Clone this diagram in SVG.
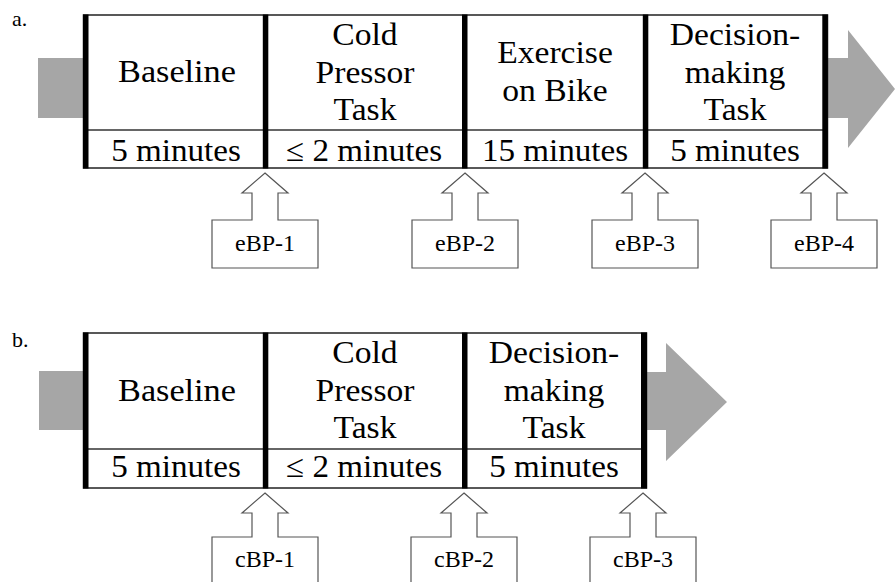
<svg xmlns="http://www.w3.org/2000/svg" width="895" height="582" viewBox="0 0 895 582">
<style>
.big{font-family:'Liberation Serif','Times New Roman',Times,serif;font-size:16px;fill:#000;text-anchor:middle}
.s{font-family:'Liberation Serif','Times New Roman',Times,serif;font-size:24px;fill:#000;text-anchor:middle}
.lab{font-family:'Liberation Serif','Times New Roman',Times,serif;font-size:22px;fill:#000}
.frame{fill:#fff;stroke:#222;stroke-width:1.5}
.div{stroke:#333;stroke-width:1.5}
.bar{fill:#000}
.gray{fill:#a6a6a6}
.call{fill:#fff;stroke:#555;stroke-width:1.2;stroke-linejoin:miter}
</style>
<rect width="895" height="582" fill="#fff"/>
<text class="lab" x="12" y="26">a.</text>
<text class="lab" x="12" y="347">b.</text>
<g id="connectors">
  <rect class="gray" x="38" y="58" width="46" height="60"/>
  <polygon class="gray" points="827,58 848,58 848,30 895,89 848,148 848,118 827,118"/>
  <rect class="gray" x="39" y="371" width="45" height="59"/>
  <polygon class="gray" points="646,372 666,372 666,343 727,402 666,461 666,430 646,430"/>
</g>
<g id="timeline-a">
  <rect class="frame" x="83.5" y="15" width="744" height="153"/>
  <line class="div" x1="84" y1="130" x2="827" y2="130"/>
  <rect class="bar" x="83" y="14.5" width="5.5" height="154"/>
  <rect class="bar" x="262.8" y="14.5" width="5.5" height="154"/>
  <rect class="bar" x="462" y="14.5" width="5.5" height="154"/>
  <rect class="bar" x="642.8" y="14.5" width="5.5" height="154"/>
  <rect class="bar" x="822.3" y="14.5" width="5.5" height="154"/>
</g>
<g id="a-baseline">
  <text class="big" transform="translate(177,82) scale(2.14,2)">Baseline</text>
  <text class="big" transform="translate(176,161) scale(2.07,2)">5 minutes</text>
</g>
<g id="a-cold">
  <text class="big" transform="translate(365,45) scale(2.1,2)">Cold</text>
  <text class="big" transform="translate(365,83) scale(2.1,2)">Pressor</text>
  <text class="big" transform="translate(365,120) scale(2.1,2)">Task</text>
  <text class="big" transform="translate(364,161) scale(2.07,2)">≤ 2 minutes</text>
</g>
<g id="a-exercise">
  <text class="big" transform="translate(555,63) scale(2.1,2)">Exercise</text>
  <text class="big" transform="translate(555,101) scale(2.1,2)">on Bike</text>
  <text class="big" transform="translate(555,161) scale(2.07,2)">15 minutes</text>
</g>
<g id="a-decision">
  <text class="big" transform="translate(735,45) scale(2.1,2)">Decision-</text>
  <text class="big" transform="translate(735,83) scale(2.1,2)">making</text>
  <text class="big" transform="translate(735,120) scale(2.1,2)">Task</text>
  <text class="big" transform="translate(735,161) scale(2.07,2)">5 minutes</text>
</g>
<g id="eBP-1">
  <polygon class="call" points="265,173 288,193 278,193 278,220 318,220 318,268 212,268 212,220 252,220 252,193 242,193"/>
  <text class="s" x="265" y="251">eBP-1</text>
</g>
<g id="eBP-2">
  <polygon class="call" points="465,173 488,193 478,193 478,220 518,220 518,268 412,268 412,220 452,220 452,193 442,193"/>
  <text class="s" x="465" y="251">eBP-2</text>
</g>
<g id="eBP-3">
  <polygon class="call" points="645,173 668,193 658,193 658,220 698,220 698,268 592,268 592,220 632,220 632,193 622,193"/>
  <text class="s" x="645" y="251">eBP-3</text>
</g>
<g id="eBP-4">
  <polygon class="call" points="824,173 847,193 837,193 837,220 877,220 877,268 771,268 771,220 811,220 811,193 801,193"/>
  <text class="s" x="824" y="251">eBP-4</text>
</g>
<g id="timeline-b">
  <rect class="frame" x="83.5" y="333" width="563" height="155"/>
  <line class="div" x1="84" y1="449" x2="646" y2="449"/>
  <rect class="bar" x="83" y="332.5" width="5.5" height="156"/>
  <rect class="bar" x="262.8" y="332.5" width="5.5" height="156"/>
  <rect class="bar" x="462" y="332.5" width="5.5" height="156"/>
  <rect class="bar" x="641" y="332.5" width="6" height="156"/>
</g>
<g id="b-baseline">
  <text class="big" transform="translate(177,401) scale(2.14,2)">Baseline</text>
  <text class="big" transform="translate(176,477) scale(2.07,2)">5 minutes</text>
</g>
<g id="b-cold">
  <text class="big" transform="translate(365,363) scale(2.1,2)">Cold</text>
  <text class="big" transform="translate(365,401) scale(2.1,2)">Pressor</text>
  <text class="big" transform="translate(365,438) scale(2.1,2)">Task</text>
  <text class="big" transform="translate(364,477) scale(2.07,2)">≤ 2 minutes</text>
</g>
<g id="b-decision">
  <text class="big" transform="translate(554,363) scale(2.1,2)">Decision-</text>
  <text class="big" transform="translate(554,401) scale(2.1,2)">making</text>
  <text class="big" transform="translate(554,438) scale(2.1,2)">Task</text>
  <text class="big" transform="translate(554,477) scale(2.07,2)">5 minutes</text>
</g>
<g id="cBP-1">
  <polygon class="call" points="265,493 288,513 278,513 278,537 318,537 318,600 212,600 212,537 252,537 252,513 242,513"/>
  <text class="s" x="265" y="567">cBP-1</text>
</g>
<g id="cBP-2">
  <polygon class="call" points="464,493 487,513 477,513 477,537 517,537 517,600 411,600 411,537 451,537 451,513 441,513"/>
  <text class="s" x="464" y="567">cBP-2</text>
</g>
<g id="cBP-3">
  <polygon class="call" points="643,493 666,513 656,513 656,537 696,537 696,600 590,600 590,537 630,537 630,513 620,513"/>
  <text class="s" x="643" y="567">cBP-3</text>
</g>
</svg>
